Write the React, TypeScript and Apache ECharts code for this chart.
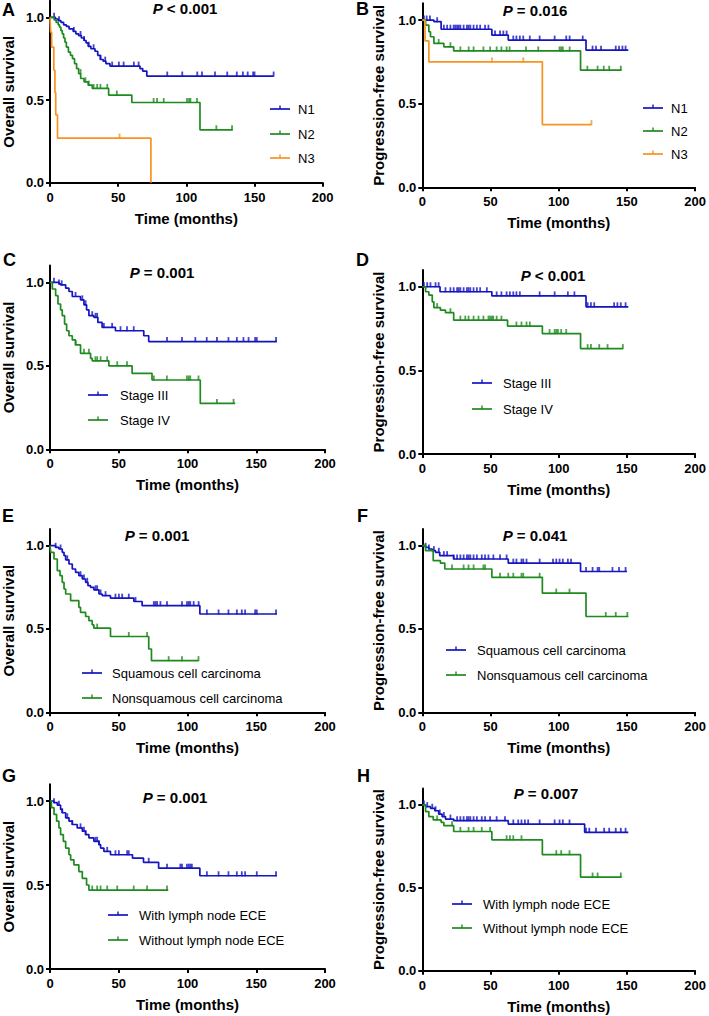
import React, { useEffect, useRef } from 'react';
import * as echarts from 'echarts';

const BLUE = '#1414c0';
const GREEN = '#1f8a1f';
const ORANGE = '#f7931e';
const FONT = '"Liberation Sans", Arial, Helvetica, sans-serif';

// ---------- Panel A: overall survival by N stage ----------
const aN1T = [0, 4, 6, 8, 10, 12, 14, 17, 19, 21, 23, 25, 26.5, 28, 30, 33, 35, 37, 39, 41, 44, 66, 68, 71, 164];
const aN1S = [1, 0.99, 0.98, 0.97, 0.955, 0.945, 0.93, 0.915, 0.9, 0.89, 0.875, 0.86, 0.845, 0.825, 0.81, 0.795, 0.77, 0.745, 0.735, 0.72, 0.705, 0.69, 0.675, 0.645, 0.645];
const aN1C = [3, 6.6, 17.5, 22.4, 25, 28.5, 32, 37, 40.5, 45.6, 50.5, 54, 61.5, 65, 86, 97, 108, 111.5, 121, 130, 137, 141.5, 145, 149, 150, 164];
const aN2T = [0, 3, 4.5, 6, 7, 8, 9, 10, 11, 12, 13.5, 15, 16.5, 18, 19.5, 21, 22.5, 25, 28, 31, 43, 60, 110, 134];
const aN2S = [1, 0.985, 0.97, 0.955, 0.94, 0.92, 0.9, 0.875, 0.85, 0.82, 0.79, 0.77, 0.75, 0.72, 0.69, 0.66, 0.63, 0.61, 0.59, 0.57, 0.53, 0.485, 0.32, 0.32];
const aN2C = [22.4, 26, 28.5, 32, 34.6, 37, 42, 49, 76, 78.5, 83.4, 100.5, 102, 103, 107.8, 122, 133.5];
const aN3T = [0, 0.5, 1.2, 2.8, 3.6, 4.2, 5.5, 74];
const aN3S = [1, 0.91, 0.82, 0.68, 0.545, 0.41, 0.27, 0];
const aN3C = [51];

// ---------- Panel B: progression-free survival by N stage ----------
const bN1T = [0, 8.5, 13.8, 51, 63, 120, 151];
const bN1S = [1, 0.99, 0.945, 0.91, 0.88, 0.82, 0.82];
const bN1C = [1.2, 3.2, 5.6, 10.9, 15.8, 18.2, 20.6, 23, 24.2, 25.5, 26.7, 27.9, 30.3, 32.7, 33.9, 35.2, 37.6, 40, 42.4, 46, 48.5, 53.3, 57, 59.4, 61.8, 66.7, 69, 71.5, 74, 78.8, 86, 97, 105.5, 108, 117.6, 124.8, 127.3, 131, 141.8, 144.2, 146.7, 149];
const bN2T = [0, 2.4, 4.8, 6, 8.5, 15.8, 23, 116, 146];
const bN2S = [1, 0.97, 0.93, 0.9, 0.86, 0.84, 0.815, 0.7, 0.7];
const bN2C = [12, 20.6, 27.9, 34, 37.6, 44.8, 49.7, 54.5, 58, 61.8, 64, 76, 85, 100.6, 101.8, 103, 108, 121, 128.5, 133, 137, 145.5];
const bN3T = [0, 2, 4.8, 88, 124];
const bN3S = [1, 0.875, 0.75, 0.375, 0.375];
const bN3C = [51, 74, 124];

// ---------- Panel C: overall survival by stage ----------
const cS3T = [0, 6.5, 7.7, 11.4, 13.8, 16.2, 22.2, 24.7, 26.6, 28.3, 31.9, 34.8, 37.9, 47.6, 68.2, 71.8, 165];
const cS3S = [1, 0.99, 0.985, 0.965, 0.945, 0.915, 0.895, 0.865, 0.835, 0.8, 0.79, 0.76, 0.73, 0.71, 0.68, 0.645, 0.645];
const cS3C = [2.9, 6.5, 8.5, 18.6, 23.5, 25.9, 30.7, 33.1, 34.3, 39.2, 45.2, 51.3, 56, 60.9, 85.1, 96, 105.7, 114, 121.4, 129.8, 135.9, 140.7, 144.4, 149.2, 150.4, 164.4];
const cS4T = [0, 1.7, 4.1, 5.8, 7.7, 8.9, 10.6, 12.1, 13.8, 16.2, 18.6, 22.2, 29.5, 30.7, 42.8, 59.7, 74.2, 109.3, 134.7];
const cS4S = [1, 0.96, 0.92, 0.87, 0.835, 0.8, 0.75, 0.71, 0.68, 0.655, 0.625, 0.575, 0.545, 0.53, 0.5, 0.455, 0.415, 0.275, 0.275];
const cS4C = [18.6, 24.7, 28.3, 33, 34.3, 36.8, 41.6, 48.9, 56, 75.5, 85, 99.6, 100.9, 102, 108, 121.4, 133.5];

// ---------- Panel D: progression-free survival by stage ----------
const dS3T = [0, 13, 51, 120, 151];
const dS3S = [1, 0.97, 0.945, 0.88, 0.88];
const dS3C = [1.2, 3.6, 6, 9.7, 12, 17, 20.6, 23, 25.5, 26.7, 27.9, 30.3, 32.7, 33.9, 35.2, 37.6, 40, 42.4, 47.3, 54.5, 58, 61.8, 64.2, 66.7, 69, 71.5, 86, 97, 106.7, 111.5, 121.2, 123.6, 126, 140.6, 143, 145.5, 149];
const dS4T = [0, 2.4, 4.8, 7.3, 8.5, 13.3, 17, 23, 62.5, 88, 116, 147];
const dS4S = [1, 0.97, 0.95, 0.91, 0.875, 0.86, 0.845, 0.8, 0.765, 0.72, 0.63, 0.63];
const dS4C = [10.9, 20.6, 27.9, 31.5, 33.9, 37.6, 41.2, 44.8, 48.5, 49.7, 51, 52, 54.5, 58, 69, 72.7, 76.4, 78.8, 93.3, 97, 98.2, 99.4, 101.8, 105.5, 121.2, 123.6, 129.7, 135.8, 147];

// ---------- Panel E: overall survival by histology ----------
const eSqT = [0, 4.1, 6.5, 8.9, 10.2, 11.4, 13.8, 16.2, 18.6, 21, 23.5, 25.9, 27.6, 29.5, 31.9, 35.6, 38, 44, 61, 67, 109, 165];
const eSqS = [1, 0.99, 0.98, 0.96, 0.94, 0.915, 0.89, 0.86, 0.84, 0.82, 0.8, 0.78, 0.76, 0.75, 0.735, 0.71, 0.7, 0.685, 0.665, 0.64, 0.59, 0.59];
const eSqC = [4.1, 7.7, 12.6, 22.2, 24.7, 27.1, 33.1, 34.3, 36.8, 40.4, 47.6, 50.1, 52.5, 57.3, 62.2, 75.5, 76.7, 77.9, 80.3, 85.1, 96, 99.6, 100.9, 102, 104.5, 108.1, 114.1, 122.6, 129.8, 135.9, 139.5, 141.9, 149.2, 150.4, 164.4];
const eNsT = [0, 0.5, 2.9, 5.3, 7.3, 8.9, 10.2, 11.4, 15, 21, 22.2, 25.9, 28.3, 30.7, 31.9, 44, 71.8, 73.8, 108];
const eNsS = [1, 0.96, 0.92, 0.85, 0.82, 0.78, 0.74, 0.71, 0.67, 0.63, 0.6, 0.575, 0.55, 0.525, 0.505, 0.455, 0.38, 0.31, 0.31];
const eNsC = [34.3, 57.3, 70.6, 86.3, 96, 108];

// ---------- Panel F: progression-free survival by histology ----------
const fSqT = [0, 2.4, 4.8, 7.3, 9.7, 12.8, 23, 63, 116, 150];
const fSqS = [1, 0.99, 0.98, 0.97, 0.96, 0.94, 0.92, 0.895, 0.845, 0.845];
const fSqC = [2.4, 4.8, 8.5, 12.1, 15.8, 18.2, 23, 25.5, 27.9, 30.3, 32.7, 33.9, 35.2, 37.6, 40, 43.6, 46, 48.5, 52.1, 57, 61.8, 66.7, 69, 72.7, 74, 76.4, 86, 95.8, 98.2, 100.6, 103, 106.7, 109, 120, 124.8, 128.5, 129.7, 139.4, 144.2, 149];
const fNsT = [0, 2.4, 8, 13.3, 16.5, 51, 88, 120, 151];
const fNsS = [1, 0.97, 0.91, 0.895, 0.86, 0.81, 0.715, 0.575, 0.575];
const fNsC = [21.8, 30.3, 33.9, 37.6, 44.8, 46, 57, 63, 66.7, 72.7, 74, 86, 98.2, 107.9, 134.5, 141.8, 150.3];

// ---------- Panel G: overall survival by lymph node ECE ----------
const gWT = [0, 2.9, 5.3, 7.7, 8.9, 11.4, 13.8, 16.2, 19.8, 23.5, 25.9, 28.3, 31.9, 35.6, 36.8, 39.2, 44, 60, 68, 79, 109, 165];
const gWS = [1, 0.99, 0.975, 0.95, 0.93, 0.9, 0.88, 0.86, 0.84, 0.82, 0.8, 0.78, 0.76, 0.74, 0.72, 0.7, 0.68, 0.66, 0.635, 0.6, 0.555, 0.555];
const gWC = [2.9, 6.5, 8.9, 12.6, 16.2, 22.2, 24.7, 25.9, 33.1, 34.3, 35.6, 41.6, 47.6, 50.1, 56.1, 57.3, 71.8, 85.1, 94.8, 96, 99.6, 100.9, 102, 103.2, 114.1, 122.6, 129.8, 135.9, 139.5, 141.9, 150.4, 164.4];
const gWoT = [0, 1, 2.9, 4.8, 6.5, 7.7, 9.7, 11.4, 13.8, 15, 17.4, 21, 23.5, 26.6, 28.3, 86];
const gWoS = [1, 0.96, 0.92, 0.88, 0.84, 0.8, 0.76, 0.72, 0.68, 0.65, 0.62, 0.58, 0.54, 0.5, 0.47, 0.47];
const gWoC = [30.7, 34.3, 36.8, 41.6, 48.9, 60.9, 70.6, 85.1];

// ---------- Panel H: progression-free survival by lymph node ECE ----------
const hWT = [0, 2.4, 6, 9.2, 12, 14.5, 17, 23, 63, 119, 151];
const hWS = [1, 0.99, 0.98, 0.965, 0.945, 0.93, 0.915, 0.905, 0.885, 0.835, 0.835];
const hWC = [1.2, 3.6, 7.3, 9.7, 12.8, 15.8, 20.6, 25.5, 27.9, 30.3, 32.7, 33.9, 35.2, 37.6, 40, 43.6, 46, 49.7, 54.5, 60.6, 66.7, 70.3, 72.7, 75.2, 77.6, 86, 97, 100.6, 103, 107.9, 120, 122.4, 127.3, 133.3, 137, 141.8, 145.5, 149];
const hWoT = [0, 2.4, 4.8, 8, 13.8, 15.8, 23, 51, 88, 116, 146];
const hWoS = [1, 0.96, 0.93, 0.91, 0.895, 0.875, 0.84, 0.79, 0.7, 0.565, 0.565];
const hWoC = [10.9, 21.8, 27.9, 33.9, 37.6, 43.6, 49.7, 61.8, 64.2, 66.7, 72.7, 98.2, 101.8, 107.9, 124.8, 128.5, 145.5];

const panelLetters = ['A', 'B', 'C', 'D', 'E', 'F', 'G', 'H'];
const yTitles = ['Overall survival', 'Progression-free survival', 'Overall survival', 'Progression-free survival', 'Overall survival', 'Progression-free survival', 'Overall survival', 'Progression-free survival'];
const pValues = ['< 0.001', '= 0.016', '= 0.001', '< 0.001', '= 0.001', '= 0.041', '= 0.001', '= 0.007'];
const xTitle = 'Time (months)';
const xTicks = [0, 50, 100, 150, 200];
const yTicks = [0, 0.5, 1.0];

type Curve = { name: string; color: string; t: number[]; s: number[]; c: number[] };

const curves: Curve[][] = [
  [
    { name: 'N1', color: BLUE, t: aN1T, s: aN1S, c: aN1C },
    { name: 'N2', color: GREEN, t: aN2T, s: aN2S, c: aN2C },
    { name: 'N3', color: ORANGE, t: aN3T, s: aN3S, c: aN3C },
  ],
  [
    { name: 'N1', color: BLUE, t: bN1T, s: bN1S, c: bN1C },
    { name: 'N2', color: GREEN, t: bN2T, s: bN2S, c: bN2C },
    { name: 'N3', color: ORANGE, t: bN3T, s: bN3S, c: bN3C },
  ],
  [
    { name: 'Stage III', color: BLUE, t: cS3T, s: cS3S, c: cS3C },
    { name: 'Stage IV', color: GREEN, t: cS4T, s: cS4S, c: cS4C },
  ],
  [
    { name: 'Stage III', color: BLUE, t: dS3T, s: dS3S, c: dS3C },
    { name: 'Stage IV', color: GREEN, t: dS4T, s: dS4S, c: dS4C },
  ],
  [
    { name: 'Squamous cell carcinoma', color: BLUE, t: eSqT, s: eSqS, c: eSqC },
    { name: 'Nonsquamous cell carcinoma', color: GREEN, t: eNsT, s: eNsS, c: eNsC },
  ],
  [
    { name: 'Squamous cell carcinoma', color: BLUE, t: fSqT, s: fSqS, c: fSqC },
    { name: 'Nonsquamous cell carcinoma', color: GREEN, t: fNsT, s: fNsS, c: fNsC },
  ],
  [
    { name: 'With lymph node ECE', color: BLUE, t: gWT, s: gWS, c: gWC },
    { name: 'Without lymph node ECE', color: GREEN, t: gWoT, s: gWoS, c: gWoC },
  ],
  [
    { name: 'With lymph node ECE', color: BLUE, t: hWT, s: hWS, c: hWC },
    { name: 'Without lymph node ECE', color: GREEN, t: hWoT, s: hWoS, c: hWoC },
  ],
];

// layout (pixels)
const layouts = [
  { grid: { left: 49.3, top: 0.8, width: 273.4, height: 181.9 }, p: [185, 8], letter: [2, 1], leg: { x1: 270, x2: 290, tx: 298, ys: [109, 134, 158] } },
  { grid: { left: 422.3, top: 3.3, width: 275, height: 184 }, p: [535, 10], letter: [356, 0], leg: { x1: 643, x2: 663, tx: 671, ys: [108, 131, 154] } },
  { grid: { left: 49.3, top: 265.6, width: 275.7, height: 183.7 }, p: [162, 272], letter: [3, 251], leg: { x1: 88, x2: 108, tx: 120, ys: [395, 420] } },
  { grid: { left: 422.3, top: 270, width: 275, height: 184 }, p: [553, 275], letter: [356, 251], leg: { x1: 472, x2: 492, tx: 503, ys: [383, 409] } },
  { grid: { left: 49.3, top: 529, width: 275.7, height: 183.3 }, p: [157, 535], letter: [2, 507], leg: { x1: 82, x2: 102, tx: 112, ys: [673, 698] } },
  { grid: { left: 422.3, top: 529, width: 275, height: 183.3 }, p: [535, 535], letter: [357, 507], leg: { x1: 446, x2: 466, tx: 477, ys: [650, 675] } },
  { grid: { left: 49.3, top: 784.2, width: 275.7, height: 184.8 }, p: [175, 797], letter: [2, 767], leg: { x1: 108, x2: 128, tx: 139, ys: [915, 940] } },
  { grid: { left: 422.3, top: 788.4, width: 275, height: 182.3 }, p: [546, 793], letter: [357, 767], leg: { x1: 452, x2: 472, tx: 483, ys: [904, 928] } },
];

function survAt(t: number[], s: number[], x: number): number {
  let v = s[0];
  for (let i = 0; i < t.length; i++) if (t[i] <= x) v = s[i];
  return v;
}

function buildOption() {
  const grid: any[] = [];
  const xAxis: any[] = [];
  const yAxis: any[] = [];
  const series: any[] = [];
  const graphic: any[] = [];

  layouts.forEach((L, i) => {
    grid.push({ ...L.grid, containLabel: false });
    xAxis.push({
      type: 'value', gridIndex: i, min: 0, max: 200, interval: 50,
      name: xTitle, nameLocation: 'middle', nameGap: 28,
      nameTextStyle: { fontFamily: FONT, fontWeight: 'bold', fontSize: 15, color: '#000' },
      axisLine: { show: true, lineStyle: { color: '#000', width: 2 } },
      axisTick: { show: true, length: 4, lineStyle: { color: '#000', width: 2 }, customValues: xTicks },
      axisLabel: { fontFamily: FONT, fontWeight: 'bold', fontSize: 13, color: '#000', margin: 8, customValues: xTicks },
      splitLine: { show: false },
    });
    yAxis.push({
      type: 'value', gridIndex: i, min: 0, max: 1.1, interval: 0.5,
      name: yTitles[i], nameLocation: 'middle', nameGap: i % 2 === 0 ? 34 : 36,
      nameTextStyle: { fontFamily: FONT, fontWeight: 'bold', fontSize: 15, color: '#000' },
      axisLine: { show: true, onZero: false, lineStyle: { color: '#000', width: 2 } },
      axisTick: { show: true, length: 4, lineStyle: { color: '#000', width: 2 }, customValues: yTicks },
      axisLabel: { fontFamily: FONT, fontWeight: 'bold', fontSize: 13, color: '#000', margin: 6, customValues: yTicks, formatter: (v: number) => v.toFixed(1) },
      splitLine: { show: false },
    });

    curves[i].forEach((cv, k) => {
      series.push({
        type: 'line', name: cv.name, xAxisIndex: i, yAxisIndex: i, step: 'end',
        symbol: 'none', clip: false, silent: true,
        lineStyle: { color: cv.color, width: 1.7 },
        data: cv.t.map((x, j) => [x, cv.s[j]]),
        z: 3 + k,
      });
      series.push({
        type: 'scatter', name: cv.name + ' censored', xAxisIndex: i, yAxisIndex: i,
        symbol: 'rect', symbolSize: [1.8, 5], symbolOffset: [0, -2], clip: false, silent: true,
        itemStyle: { color: cv.color },
        data: cv.c.map((x) => [x, survAt(cv.t, cv.s, x)]),
        z: 3 + k,
      });
      // legend entry
      const y = L.leg.ys[k];
      const mid = (L.leg.x1 + L.leg.x2) / 2;
      graphic.push({ type: 'line', silent: true, shape: { x1: L.leg.x1, y1: y, x2: L.leg.x2, y2: y }, style: { stroke: cv.color, lineWidth: 1.7 } });
      graphic.push({ type: 'line', silent: true, shape: { x1: mid, y1: y - 3.5, x2: mid, y2: y }, style: { stroke: cv.color, lineWidth: 1.4 } });
      graphic.push({ type: 'text', silent: true, x: L.leg.tx, y, style: { text: cv.name, font: `13px ${FONT}`, fill: '#000', textAlign: 'left', textVerticalAlign: 'middle' } });
    });

    graphic.push({
      type: 'text', silent: true, x: L.p[0], y: L.p[1],
      style: {
        text: `{i|P} {b|${pValues[i]}}`,
        textAlign: 'center', textVerticalAlign: 'middle',
        rich: {
          i: { fontFamily: FONT, fontWeight: 'bold', fontStyle: 'italic', fontSize: 15, fill: '#000', color: '#000' },
          b: { fontFamily: FONT, fontWeight: 'bold', fontSize: 15, fill: '#000', color: '#000' },
        },
        font: `bold 15px ${FONT}`, fill: '#000',
      },
    });
    graphic.push({
      type: 'text', silent: true, x: L.letter[0], y: L.letter[1],
      style: { text: panelLetters[i], font: `bold 18px ${FONT}`, fill: '#000', textAlign: 'left', textVerticalAlign: 'top' },
    });
  });

  return { animation: false, backgroundColor: '#fff', grid, xAxis, yAxis, series, graphic };
}

export default function App() {
  const ref = useRef<HTMLDivElement>(null);
  useEffect(() => {
    document.body.style.margin = '0';
    if (!ref.current) return;
    const chart = echarts.init(ref.current, undefined, { renderer: 'svg' });
    chart.setOption(buildOption() as any);
    return () => chart.dispose();
  }, []);
  return <div ref={ref} style={{ width: 709, height: 1016, position: 'absolute', left: 0, top: 0, background: '#fff' }} />;
}
